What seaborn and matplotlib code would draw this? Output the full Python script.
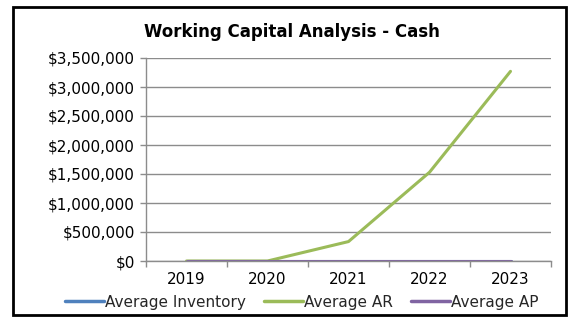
import matplotlib
matplotlib.use("Agg")
import matplotlib.pyplot as plt
from matplotlib.patches import Rectangle
from matplotlib.ticker import FuncFormatter, FixedLocator
import seaborn as sns
import pandas as pd

years = ["2019", "2020", "2021", "2022", "2023"]
avg_inventory = [0, 0, 0, 0, 0]
avg_ar = [0, 0, 335000, 1530000, 3270000]
avg_ap = [0, 0, 0, 0, 0]
series_names = ["Average Inventory", "Average AR", "Average AP"]
colors = ["#4F81BD", "#9BBB59", "#8064A2"]

rows = []
for name, vals in zip(series_names, [avg_inventory, avg_ar, avg_ap]):
    for i, v in enumerate(vals):
        rows.append({"pos": i, "year": years[i], "value": v, "series": name})
df = pd.DataFrame(rows)

sns.set_theme(style="white")
plt.rcParams["font.family"] = ["DejaVu Sans"]

fig = plt.figure(figsize=(5.79, 3.29), dpi=100)
ax = fig.add_axes([146 / 579, 1 - 261 / 329, (551 - 146) / 579, (261 - 58) / 329])

sns.lineplot(data=df, x="pos", y="value", hue="series", hue_order=series_names,
             palette=colors, linewidth=2.2, ax=ax, legend=False, sort=False)

ax.set_xlim(-0.5, 4.5)
ax.set_ylim(0, 3500000)
ax.yaxis.set_major_locator(FixedLocator(range(0, 3500001, 500000)))
ax.yaxis.set_major_formatter(FuncFormatter(lambda v, p: f"${v:,.0f}"))
ax.xaxis.set_major_locator(FixedLocator(range(len(years))))
ax.set_xticklabels(years)
ax.xaxis.set_minor_locator(FixedLocator([i - 0.5 for i in range(len(years) + 1)]))
ax.set_xlabel("")
ax.set_ylabel("")

ax.grid(axis="y", color="#8c8c8c", linewidth=1.0)
ax.set_axisbelow(True)
for side in ["top", "right"]:
    ax.spines[side].set_visible(False)
for side in ["left", "bottom"]:
    ax.spines[side].set_color("#8c8c8c")
    ax.spines[side].set_linewidth(1.0)

ax.tick_params(axis="x", which="major", length=0, labelsize=11, pad=8, colors="#000000")
ax.tick_params(axis="x", which="minor", length=4, width=1, color="#8c8c8c", direction="out", bottom=True)
ax.tick_params(axis="y", which="major", length=4, width=1, color="#8c8c8c", direction="out",
               left=True, labelsize=11, pad=4, labelcolor="#000000")

fig.text(292 / 579, 1 - 32 / 329, "Working Capital Analysis - Cash", ha="center", va="center",
         fontsize=12, fontweight="bold", color="#000000")

handles = [plt.Line2D([], [], color=c, linewidth=2.5) for c in colors]
fig.legend(handles, series_names, loc="center", bbox_to_anchor=(302 / 579, 1 - 302 / 329),
           ncol=3, frameon=False, fontsize=11, handlelength=2.5, handletextpad=0.1,
           columnspacing=1.2, borderaxespad=0)

fig.patches.append(Rectangle((13 / 579, 1 - 315 / 329), (566 - 13) / 579, (315 - 7) / 329,
                             transform=fig.transFigure, fill=False, edgecolor="#000000",
                             linewidth=2))

fig.savefig("out.png", dpi=100)
